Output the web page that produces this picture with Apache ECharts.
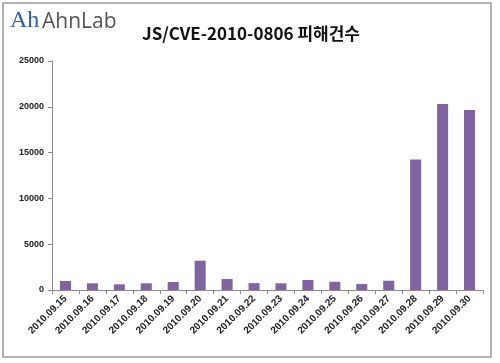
<!DOCTYPE html>
<html><head><meta charset="utf-8">
<script src="https://cdn.jsdelivr.net/npm/echarts@6/dist/echarts.min.js"></script>
<style>html,body{margin:0;padding:0;background:#fff}#c{width:500px;height:363px}</style>
</head><body><div id="c"></div>
<script>
const categories = ['2010.09.15','2010.09.16','2010.09.17','2010.09.18','2010.09.19','2010.09.20','2010.09.21','2010.09.22','2010.09.23','2010.09.24','2010.09.25','2010.09.26','2010.09.27','2010.09.28','2010.09.29','2010.09.30'];
const values = [980, 730, 620, 730, 870, 3200, 1200, 750, 730, 1090, 900, 650, 1010, 14250, 20300, 19650];
const yTicks = [0, 5000, 10000, 15000, 20000, 25000];
const titleText = 'JS/CVE-2010-0806 피해건수';

const chart = echarts.init(document.getElementById('c'));
chart.setOption({
  animation: false,
  backgroundColor: '#fff',
  grid: { left: 52, right: 17, top: 61, bottom: 73 },
  xAxis: {
    type: 'category', data: categories,
    axisLine: { lineStyle: { color: '#8c8c8c', width: 1 } },
    axisTick: { show: true, length: 4, lineStyle: { color: '#8c8c8c' } },
    axisLabel: { interval: 0, rotate: 45, margin: 7, fontSize: 10, fontWeight: 'bold', color: '#222', fontFamily: 'Liberation Sans, Arial, sans-serif' }
  },
  yAxis: {
    type: 'value', min: 0, max: yTicks[yTicks.length-1], interval: yTicks[1]-yTicks[0],
    splitLine: { show: false },
    axisLine: { show: true, lineStyle: { color: '#8c8c8c', width: 1 } },
    axisTick: { show: true, length: 4, lineStyle: { color: '#8c8c8c' } },
    axisLabel: { margin: 8, fontSize: 9, fontWeight: 'bold', color: '#222', fontFamily: 'Liberation Sans, Arial, sans-serif', formatter: v => String(v) }
  },
  series: [{ type: 'bar', data: values, barWidth: '41%', itemStyle: { color: '#8064a2' } }],
  graphic: [
    { type: 'rect', shape: { x: 3, y: 3, width: 488, height: 354 }, style: { fill: 'none', stroke: '#9a9a9a', lineWidth: 1.5 } },
    { type: 'text', left: 10, top: 9, style: { text: 'Ah', font: '24px "Liberation Serif", serif', fill: '#2d5faa' } },
    { type: 'text', left: 42, top: 12, style: { text: 'AhnLab', font: '21px "Open Sans", "Liberation Sans", sans-serif', fill: '#555' } },
    { type: 'text', x: 251, y: 34, style: { text: titleText, font: 'bold 17px "Noto Sans CJK KR", sans-serif', fill: '#111', align: 'center', verticalAlign: 'middle' } }
  ]
});
</script></body></html>
